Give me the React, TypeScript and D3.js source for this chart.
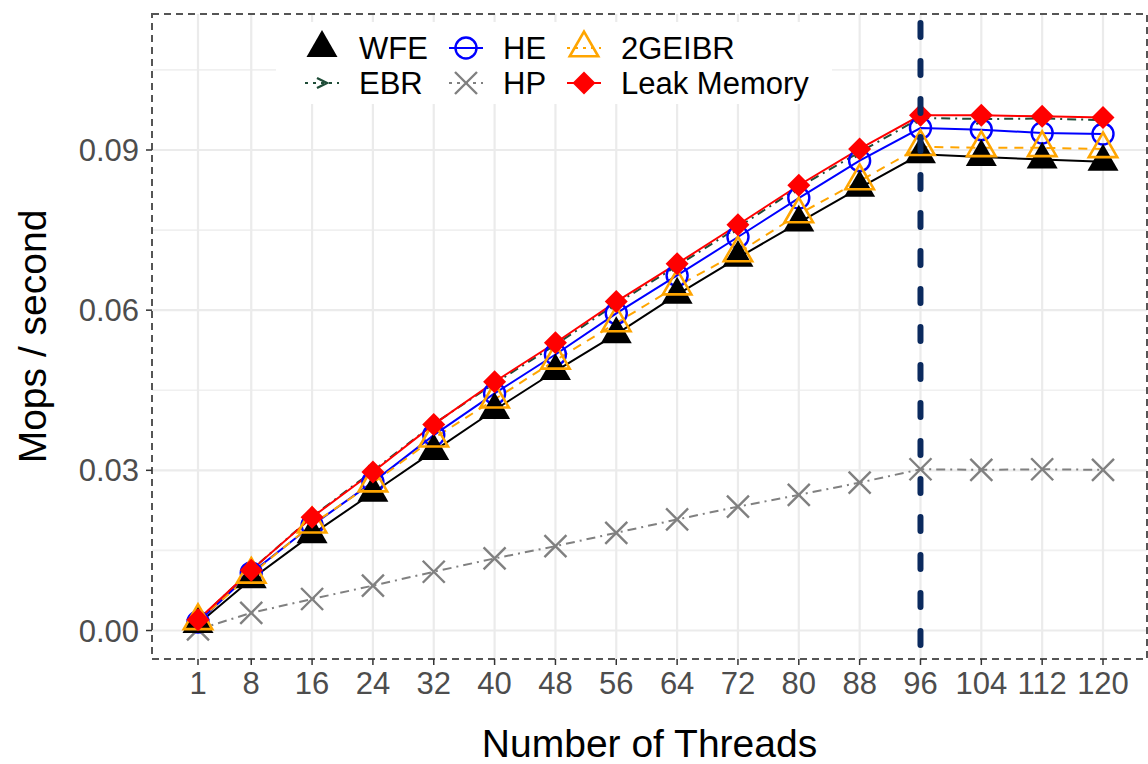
import React from 'react'
import * as d3 from 'd3'

// data
const threads = [1, 8, 16, 24, 32, 40, 48, 56, 64, 72, 80, 88, 96, 104, 112, 120]
const wfe = [0.0012, 0.0096, 0.018, 0.0258, 0.0336, 0.0413, 0.0486, 0.0555, 0.0629, 0.0698, 0.0764, 0.0829, 0.0892, 0.0887, 0.0882, 0.0878]
const he = [0.0016, 0.0108, 0.0197, 0.0278, 0.0366, 0.0444, 0.0517, 0.0594, 0.0665, 0.0737, 0.081, 0.088, 0.0941, 0.0938, 0.0932, 0.093]
const geibr = [0.0018, 0.0105, 0.0199, 0.0276, 0.036, 0.0433, 0.0506, 0.0576, 0.0645, 0.0707, 0.078, 0.0842, 0.0906, 0.0904, 0.0904, 0.0902]
const ebr = [0.0019, 0.0113, 0.0213, 0.0299, 0.0387, 0.0463, 0.0535, 0.0612, 0.0683, 0.0755, 0.083, 0.0896, 0.096, 0.0958, 0.0959, 0.0956]
const hp = [0.0002, 0.0033, 0.0059, 0.0084, 0.011, 0.0135, 0.0158, 0.0183, 0.0208, 0.0232, 0.0254, 0.0277, 0.0302, 0.0301, 0.0302, 0.0301]
const leak = [0.002, 0.0113, 0.0212, 0.0297, 0.0386, 0.0466, 0.0539, 0.0616, 0.0687, 0.076, 0.0834, 0.0902, 0.0965, 0.0965, 0.0963, 0.0961]
const yTicks = [0, 0.03, 0.06, 0.09]
const yMinor = [0.015, 0.045, 0.075, 0.105]
const vline = 96

type Shape = 'tri' | 'otri' | 'circle' | 'diamond' | 'x' | 'gt'
interface Series { name: string; values: number[]; color: string; dash: string; shape: Shape }

// draw order (bottom first)
const series: Series[] = [
  { name: 'HP', values: hp, color: '#808080', dash: '9 5 2 5', shape: 'x' },
  { name: 'EBR', values: ebr, color: '#1f4d38', dash: '9 5 2 5', shape: 'gt' },
  { name: 'HE', values: he, color: '#0000ff', dash: '', shape: 'circle' },
  { name: 'WFE', values: wfe, color: '#000000', dash: '', shape: 'tri' },
  { name: '2GEIBR', values: geibr, color: '#ffa500', dash: '9 7', shape: 'otri' },
  { name: 'Leak Memory', values: leak, color: '#ff0000', dash: '', shape: 'diamond' },
]
const legendRows = [['WFE', 'HE', '2GEIBR'], ['EBR', 'HP', 'Leak Memory']]

const W = 1148, H = 764
const panel = { left: 152, top: 14, right: 1147, bottom: 659 }
const font = "'Liberation Sans', Arial, Helvetica, sans-serif"

function Marker({ shape, cx, cy, color }: { shape: Shape; cx: number; cy: number; color: string }) {
  const s = 11.5
  const r = 1.555 * s, xc = 1.347 * s, yc = 0.778 * s
  const tri = `M${cx},${cy - r}L${cx + xc},${cy + yc}L${cx - xc},${cy + yc}Z`
  switch (shape) {
    case 'tri':
      return <path d={tri} fill={color} />
    case 'otri':
      return <path d={`M${cx},${cy - r * 0.92}L${cx + xc * 0.92},${cy + yc * 0.92}L${cx - xc * 0.92},${cy + yc * 0.92}Z`} fill="none" stroke={color} strokeWidth={2.6} />
    case 'circle':
      return <circle cx={cx} cy={cy} r={10.5} fill="none" stroke={color} strokeWidth={2.4} />
    case 'diamond': {
      const d = 11.5
      return <path d={`M${cx},${cy - d}L${cx + d},${cy}L${cx},${cy + d}L${cx - d},${cy}Z`} fill={color} />
    }
    case 'x': {
      const d = 11
      return <path d={`M${cx - d},${cy - d}L${cx + d},${cy + d}M${cx - d},${cy + d}L${cx + d},${cy - d}`} stroke={color} strokeWidth={2.4} />
    }
    case 'gt':
      return <path d={`M${cx - 5},${cy - 5}L${cx + 5},${cy}L${cx - 5},${cy + 5}`} fill="none" stroke={color} strokeWidth={2.4} />
  }
  return null
}

export default function App() {
  const x = d3.scaleLinear().domain([1, 120]).range([198, 1103])
  const y = d3.scaleLinear().domain([0, 0.09]).range([630.5, 150])
  const line = d3.line<[number, number]>().x(d => x(d[0])).y(d => y(d[1]))
  const byName = (n: string) => series.find(s => s.name === n)!

  const legX = [322, 466, 584]
  const legY = [48, 83]

  return (
    <svg width={W} height={H} style={{ position: 'absolute', left: 0, top: 0, background: '#fff' }} fontFamily={font}>
      <rect width={W} height={H} fill="#fff" />
      {/* grid */}
      {yMinor.map(v => (
        <line key={'ym' + v} x1={panel.left} x2={panel.right} y1={y(v)} y2={y(v)} stroke="#f0f0f0" strokeWidth={1.6} />
      ))}
      {yTicks.map(v => (
        <line key={'y' + v} x1={panel.left} x2={panel.right} y1={y(v)} y2={y(v)} stroke="#ebebeb" strokeWidth={2.2} />
      ))}
      {threads.map(t => (
        <line key={'x' + t} x1={x(t)} x2={x(t)} y1={panel.top} y2={panel.bottom} stroke="#ebebeb" strokeWidth={2.2} />
      ))}

      {/* lines */}
      {series.map(s => (
        <path key={'l' + s.name} d={line(threads.map((t, i) => [t, s.values[i]] as [number, number]))!}
          fill="none" stroke={s.color} strokeWidth={2} strokeDasharray={s.dash || undefined} />
      ))}
      {/* points */}
      {series.map(s => (
        <g key={'p' + s.name}>
          {threads.map((t, i) => <Marker key={t} shape={s.shape} cx={x(t)} cy={y(s.values[i])} color={s.color} />)}
        </g>
      ))}

      {/* vertical marker */}
      <line x1={x(vline)} x2={x(vline)} y1={panel.top} y2={panel.bottom} stroke="#0b2a5e" strokeWidth={6}
        strokeDasharray="14 24" strokeDashoffset={29} strokeLinecap="round" />

      {/* border */}
      <rect x={panel.left} y={panel.top} width={panel.right - panel.left} height={panel.bottom - panel.top}
        fill="none" stroke="#555" strokeWidth={2} strokeDasharray="7 5" />

      {/* legend */}
      <rect x={276} y={22} width={556} height={82} fill="#fff" />
      {legendRows.map((row, ri) => row.map((n, ci) => {
        const s = byName(n)
        const cx = legX[ci], cy = legY[ri]
        return (
          <g key={n}>
            {s.shape !== 'tri' && (
              <line x1={cx - 17} x2={cx + 17} y1={cy} y2={cy} stroke={s.color} strokeWidth={2} strokeDasharray={s.dash ? '3 5 3 5' : undefined} />
            )}
            <Marker shape={s.shape} cx={cx} cy={cy} color={s.color} />
            <text x={cx + 37} y={cy + 11} fontSize={31} fill="#000">{n}</text>
          </g>
        )
      }))}

      {/* y axis */}
      {yTicks.map(v => (
        <g key={'yt' + v}>
          <line x1={panel.left - 6} x2={panel.left} y1={y(v)} y2={y(v)} stroke="#333" strokeWidth={1.5} />
          <text x={139} y={y(v) + 11} textAnchor="end" fontSize={31} fill="#4d4d4d">{d3.format('.2f')(v)}</text>
        </g>
      ))}
      {/* x axis */}
      {threads.map(t => (
        <g key={'xt' + t}>
          <line x1={x(t)} x2={x(t)} y1={panel.bottom} y2={panel.bottom + 6} stroke="#333" strokeWidth={1.5} />
          <text x={x(t)} y={694} textAnchor="middle" fontSize={31} fill="#4d4d4d">{t}</text>
        </g>
      ))}

      <text x={(panel.left + panel.right) / 2} y={757} textAnchor="middle" fontSize={39} fill="#000">Number of Threads</text>
      <text transform={`translate(46,${(panel.top + panel.bottom) / 2}) rotate(-90)`} textAnchor="middle" fontSize={39} fill="#000">Mops / second</text>
    </svg>
  )
}
